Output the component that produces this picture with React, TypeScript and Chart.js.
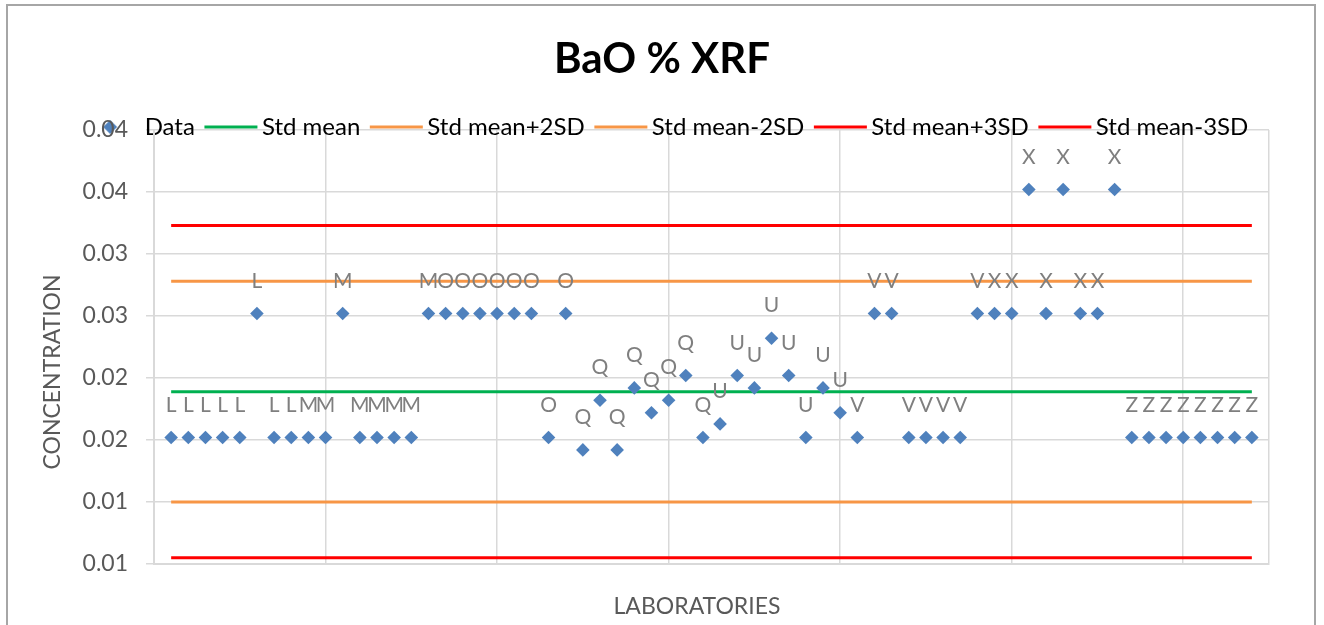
import React, { useEffect, useRef } from 'react';
import { Chart, registerables } from 'chart.js';

Chart.register(...registerables);

// ---------- data ----------
const labLetters = [
  'L', 'L', 'L', 'L', 'L', 'L', 'L', 'L',
  'M', 'M', 'M', 'M', 'M', 'M', 'M', 'M',
  'O', 'O', 'O', 'O', 'O', 'O', 'O', 'O',
  'Q', 'Q', 'Q', 'Q', 'Q', 'Q', 'Q', 'Q',
  'U', 'U', 'U', 'U', 'U', 'U', 'U', 'U',
  'V', 'V', 'V', 'V', 'V', 'V', 'V', 'V',
  'X', 'X', 'X', 'X', 'X', 'X', 'X', 'X',
  'Z', 'Z', 'Z', 'Z', 'Z', 'Z', 'Z', 'Z',
];

const concentrations = [
  0.0152, 0.0152, 0.0152, 0.0152, 0.0152, 0.0252, 0.0152, 0.0152, // L
  0.0152, 0.0152, 0.0252, 0.0152, 0.0152, 0.0152, 0.0152, 0.0252, // M
  0.0252, 0.0252, 0.0252, 0.0252, 0.0252, 0.0252, 0.0152, 0.0252, // O
  0.0142, 0.0182, 0.0142, 0.0192, 0.0172, 0.0182, 0.0202, 0.0152, // Q
  0.0163, 0.0202, 0.0192, 0.0232, 0.0202, 0.0152, 0.0192, 0.0172, // U
  0.0152, 0.0252, 0.0252, 0.0152, 0.0152, 0.0152, 0.0152, 0.0252, // V
  0.0252, 0.0252, 0.0352, 0.0252, 0.0352, 0.0252, 0.0252, 0.0352, // X
  0.0152, 0.0152, 0.0152, 0.0152, 0.0152, 0.0152, 0.0152, 0.0152, // Z
];

const dataName = 'Data';
const refNames = ['Std mean', 'Std mean+2SD', 'Std mean-2SD', 'Std mean+3SD', 'Std mean-3SD'];
const refValues = [0.0189, 0.0278, 0.0100, 0.0323, 0.0055];
const refColors = ['#00b050', '#f79646', '#f79646', '#ff0000', '#ff0000'];

const yTickValues = [0.005, 0.01, 0.015, 0.02, 0.025, 0.03, 0.035, 0.04];
const yTickLabels = ['0.01', '0.01', '0.02', '0.02', '0.03', '0.03', '0.04', '0.04'];
const xGridValues = [0, 10, 20, 30, 40, 50, 60, 65];

const chartTitle = 'BaO % XRF';
const xAxisTitle = 'LABORATORIES';
const yAxisTitle = 'CONCENTRATION';

const MARKER = '#4f81bd';
const GRID = '#d9d9d9';
const AXIS_TEXT = '#595959';

function makeDiamond(): HTMLCanvasElement {
  const c = document.createElement('canvas');
  c.width = 16;
  c.height = 16;
  const g = c.getContext('2d')!;
  g.fillStyle = MARKER;
  g.beginPath();
  g.moveTo(8, 1);
  g.lineTo(15, 8);
  g.lineTo(8, 15);
  g.lineTo(1, 8);
  g.closePath();
  g.fill();
  return c;
}

function makeLine(color: string): HTMLCanvasElement {
  const c = document.createElement('canvas');
  c.width = 62;
  c.height = 4;
  const g = c.getContext('2d')!;
  g.fillStyle = color;
  g.fillRect(8, 0.5, 53, 3);
  return c;
}

export default function App() {
  const ref = useRef<HTMLCanvasElement>(null);

  useEffect(() => {
    const canvas = ref.current;
    if (!canvas) return;
    Chart.defaults.font.family = 'Lato';

    const legendImages = [makeDiamond(), ...refColors.map(makeLine)];

    const firstX = 1;
    const lastX = concentrations.length;

    const datasets: any[] = [
      {
        label: dataName,
        data: concentrations.map((v, i) => ({ x: i + 1, y: v })),
        pointStyle: 'rectRot',
        pointRadius: 6.8,
        pointHoverRadius: 6.8,
        backgroundColor: MARKER,
        borderColor: MARKER,
        borderWidth: 0,
        showLine: false,
        order: 0,
      },
      ...refNames.map((name, k) => ({
        label: name,
        data: [
          { x: firstX, y: refValues[k] },
          { x: lastX, y: refValues[k] },
        ],
        borderColor: refColors[k],
        backgroundColor: refColors[k],
        borderWidth: 3,
        pointRadius: 0,
        pointHoverRadius: 0,
        showLine: true,
        fill: false,
        order: 1,
      })),
    ];

    // The legend reserves only 25px of layout height (so the plot starts
    // right under its text, as in the reference) but must not be clipped.
    const legendOverlap = {
      id: 'legendOverlap',
      afterLayout(chart: any) {
        const lg = chart.legend;
        if (lg) {
          lg.bottom = lg.top + 60;
          lg.height = 60;
        }
      },
    };

    const textPlugin = {
      id: 'textOverlay',
      afterDatasetsDraw(chart: any) {
        const ctx = chart.ctx;
        const meta = chart.getDatasetMeta(0);
        ctx.save();
        ctx.font = '21px Lato';
        ctx.fillStyle = '#7f7f7f';
        ctx.textAlign = 'center';
        ctx.textBaseline = 'alphabetic';
        meta.data.forEach((pt: any, i: number) => {
          ctx.fillText(labLetters[i], pt.x, pt.y - 26);
        });
        ctx.restore();
      },
      afterDraw(chart: any) {
        const ctx = chart.ctx;
        ctx.save();
        ctx.textAlign = 'center';
        ctx.textBaseline = 'alphabetic';
        ctx.fillStyle = '#000000';
        ctx.font = 'bold 42px Lato';
        ctx.fillText(chartTitle, 662, 73);

        ctx.fillStyle = AXIS_TEXT;
        ctx.font = '23px Lato';
        ctx.fillText(xAxisTitle, 697, 614);

        ctx.translate(60, 372);
        ctx.rotate(-Math.PI / 2);
        ctx.fillText(yAxisTitle, 0, 0);
        ctx.restore();
      },
    };

    const chart = new Chart(canvas, {
      type: 'scatter',
      data: { datasets },
      options: {
        responsive: false,
        maintainAspectRatio: false,
        animation: false,
        devicePixelRatio: 1,
        events: [],
        layout: { padding: { left: 40, right: 28, top: 105, bottom: 61 } },
        plugins: {
          title: { display: false },
          tooltip: { enabled: false },
          legend: {
            display: true,
            position: 'top',
            align: 'center',
            maxHeight: 25,
            labels: {
              usePointStyle: true,
              pointStyleWidth: 45,
              boxHeight: 24,
              padding: 10,
              color: '#000000',
              font: { family: 'Lato', size: 24 },
              generateLabels: (ch: any) => {
                const items = (Chart.defaults.plugins.legend.labels as any).generateLabels(ch);
                return items.map((it: any, i: number) => ({ ...it, pointStyle: legendImages[i] }));
              },
            },
          },
        },
        scales: {
          x: {
            type: 'linear',
            min: 0,
            max: 65,
            afterBuildTicks: (s: any) => {
              s.ticks = xGridValues.map((v) => ({ value: v }));
            },
            ticks: { display: false, autoSkip: false },
            grid: { color: GRID, lineWidth: 1.5, drawTicks: false },
            border: { color: GRID, width: 2 },
          },
          y: {
            type: 'linear',
            min: 0.005,
            max: 0.04,
            afterBuildTicks: (s: any) => {
              s.ticks = yTickValues.map((v) => ({ value: v }));
            },
            afterFit: (s: any) => {
              s.width = 114;
            },
            ticks: {
              autoSkip: false,
              padding: 18,
              color: AXIS_TEXT,
              font: { family: 'Lato', size: 23 },
              callback: (_v: any, i: number) => yTickLabels[i],
            },
            grid: { color: GRID, lineWidth: 1.5, tickLength: 8, drawTicks: true },
            border: { color: GRID, width: 2 },
          },
          y2: {
            type: 'linear',
            position: 'right',
            display: true,
            ticks: { display: false },
            grid: { display: false },
            border: { display: false },
            afterFit: (s: any) => {
              s.width = 27;
            },
          },
        },
      } as any,
      plugins: [legendOverlap, textPlugin],
    });

    let alive = true;
    if ((document as any).fonts && (document as any).fonts.load) {
      Promise.all([
        (document as any).fonts.load('24px Lato'),
        (document as any).fonts.load('bold 42px Lato'),
      ])
        .then(() => {
          if (alive) chart.update();
        })
        .catch(() => {});
    }

    return () => {
      alive = false;
      chart.destroy();
    };
  }, []);

  return (
    <div
      style={{
        position: 'fixed',
        left: 0,
        top: 0,
        width: 1324,
        height: 625,
        overflow: 'hidden',
        background: '#ffffff',
      }}
    >
      <div
        style={{
          position: 'absolute',
          left: 6,
          top: 4,
          width: 1310,
          height: 700,
          border: '2px solid #a6a6a6',
          boxSizing: 'border-box',
        }}
      />
      <canvas
        ref={ref}
        width={1324}
        height={625}
        style={{ position: 'absolute', left: 0, top: 0, width: 1324, height: 625 }}
      />
    </div>
  );
}
